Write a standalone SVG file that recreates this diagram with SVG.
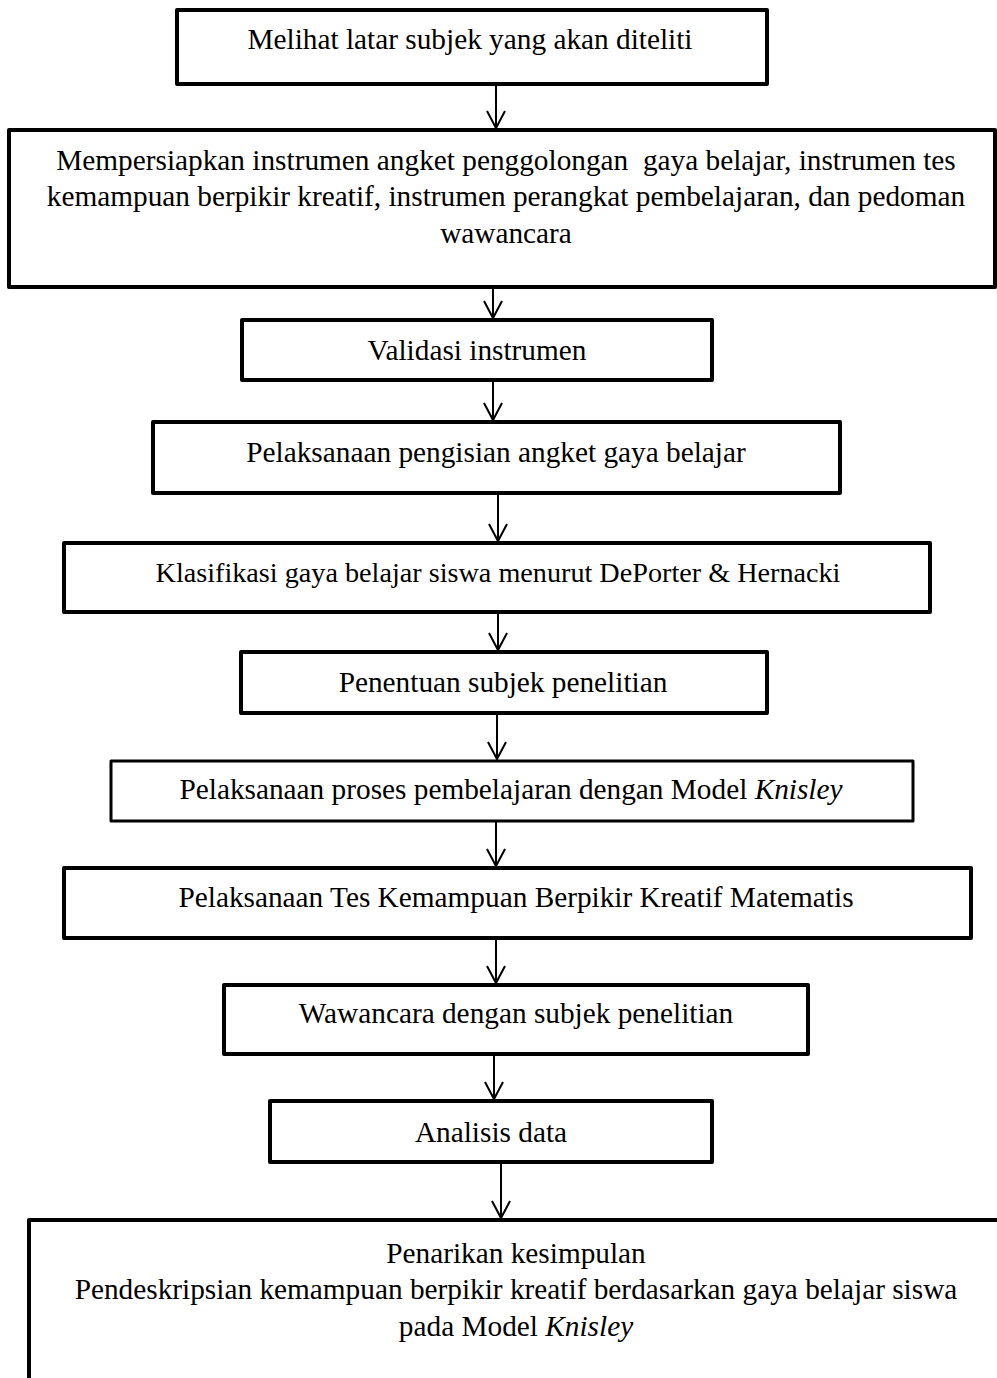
<svg xmlns="http://www.w3.org/2000/svg" width="997" height="1378" viewBox="0 0 997 1378">
<style>
  .box { fill: #fff; stroke: #000; stroke-width: 4; stroke-linejoin: round; }
  .thin { stroke-width: 3; }
  .t { font-family: "Liberation Serif", "Times New Roman", serif; font-size: 29.3px; fill: #000; text-anchor: middle; }
  .it { font-style: italic; }
  .conn { stroke: #000; stroke-width: 2; fill: none; }
</style>
<defs>
  <marker id="ah" viewBox="-20 -12 22 24" markerWidth="22" markerHeight="24" refX="0" refY="0" orient="auto" markerUnits="userSpaceOnUse" overflow="visible">
    <path d="M-17,-9 L0,0 L-17,9" fill="none" stroke="#000" stroke-width="2"/>
  </marker>
</defs>
<rect width="997" height="1378" fill="#fff"/>

<g id="n1">
  <rect class="box" x="177" y="10" width="590" height="74"/>
  <text class="t" x="470" y="49">Melihat latar subjek yang akan diteliti</text>
</g>
<g id="n2">
  <rect class="box" x="9" y="130" width="986" height="157"/>
  <text class="t" x="506" y="170" xml:space="preserve">Mempersiapkan instrumen angket penggolongan  gaya belajar, instrumen tes</text>
  <text class="t" x="506" y="206">kemampuan berpikir kreatif, instrumen perangkat pembelajaran, dan pedoman</text>
  <text class="t" x="506" y="243">wawancara</text>
</g>
<g id="n3">
  <rect class="box" x="242" y="320" width="470" height="60"/>
  <text class="t" x="477" y="360">Validasi instrumen</text>
</g>
<g id="n4">
  <rect class="box" x="153" y="422" width="687" height="71"/>
  <text class="t" x="496" y="462">Pelaksanaan pengisian angket gaya belajar</text>
</g>
<g id="n5">
  <rect class="box" x="64" y="543" width="866" height="69"/>
  <text class="t" x="498" y="582" style="font-size:28.2px">Klasifikasi gaya belajar siswa menurut DePorter &amp; Hernacki</text>
</g>
<g id="n6">
  <rect class="box" x="241" y="652" width="526" height="61"/>
  <text class="t" x="503" y="692">Penentuan subjek penelitian</text>
</g>
<g id="n7">
  <rect class="box thin" x="111" y="761" width="802" height="60"/>
  <text class="t" x="511" y="799">Pelaksanaan proses pembelajaran dengan Model <tspan class="it">Knisley</tspan></text>
</g>
<g id="n8">
  <rect class="box" x="64" y="868" width="907" height="70"/>
  <text class="t" x="516" y="907">Pelaksanaan Tes Kemampuan Berpikir Kreatif Matematis</text>
</g>
<g id="n9">
  <rect class="box" x="224" y="985" width="584" height="69"/>
  <text class="t" x="516" y="1023">Wawancara dengan subjek penelitian</text>
</g>
<g id="n10">
  <rect class="box" x="270" y="1101" width="442" height="61"/>
  <text class="t" x="491" y="1142">Analisis data</text>
</g>
<g id="n11">
  <rect class="box" x="29" y="1220" width="990" height="200"/>
  <text class="t" x="516" y="1263">Penarikan kesimpulan</text>
  <text class="t" x="516" y="1299">Pendeskripsian kemampuan berpikir kreatif berdasarkan gaya belajar siswa</text>
  <text class="t" x="516" y="1336">pada Model <tspan class="it">Knisley</tspan></text>
</g>

<g id="connectors">
  <line class="conn" x1="496" y1="86" x2="496" y2="128" marker-end="url(#ah)"/>
  <line class="conn" x1="493" y1="289" x2="493" y2="318" marker-end="url(#ah)"/>
  <line class="conn" x1="493" y1="382" x2="493" y2="420" marker-end="url(#ah)"/>
  <line class="conn" x1="498" y1="495" x2="498" y2="541" marker-end="url(#ah)"/>
  <line class="conn" x1="498" y1="614" x2="498" y2="650" marker-end="url(#ah)"/>
  <line class="conn" x1="497" y1="715" x2="497" y2="759" marker-end="url(#ah)"/>
  <line class="conn" x1="496" y1="822" x2="496" y2="866" marker-end="url(#ah)"/>
  <line class="conn" x1="496" y1="940" x2="496" y2="983" marker-end="url(#ah)"/>
  <line class="conn" x1="494" y1="1056" x2="494" y2="1099" marker-end="url(#ah)"/>
  <line class="conn" x1="501" y1="1164" x2="501" y2="1218" marker-end="url(#ah)"/>
</g>
</svg>
